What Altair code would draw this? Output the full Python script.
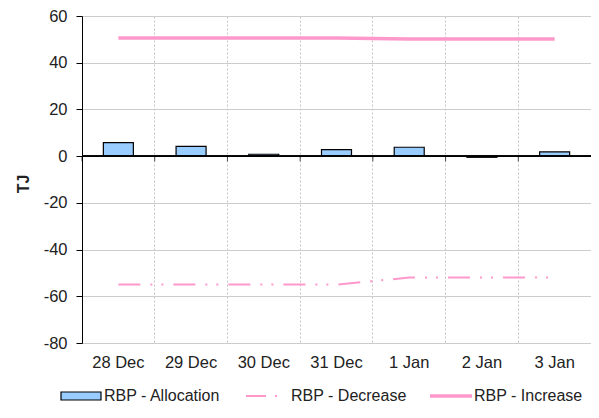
import altair as alt
import pandas as pd

days = ["28 Dec", "29 Dec", "30 Dec", "31 Dec", "1 Jan", "2 Jan", "3 Jan"]
allocation = [5.8, 4.2, 0.8, 2.8, 3.8, -0.5, 1.8]
decrease = [-55.0, -55.0, -55.0, -55.0, -52.0, -52.0, -52.0]
increase = [50.6, 50.6, 50.6, 50.6, 50.1, 50.1, 50.1]
y_ticks = [-80, -60, -40, -20, 0, 20, 40, 60]
legend_labels = ["RBP - Allocation", "RBP - Decrease", "RBP - Increase"]

df = pd.DataFrame({"day": days, "alloc": allocation, "dec": decrease, "inc": increase, "zero": 0})

FONT = "Liberation Sans"
PINK = "#ff99cc"
W, H = 509, 327

xscale = alt.Scale(domain=days, paddingInner=0, paddingOuter=0)
yscale = alt.Scale(domain=[-80, 60], nice=False, zero=False)

base = alt.Chart(df)

bars = base.mark_bar(size=30, fill="#99ccff", stroke="black", strokeWidth=1.2).encode(
    x=alt.X("day:N", sort=days, scale=xscale, title=None,
            axis=alt.Axis(labelAngle=0, domain=False, ticks=False, labelPadding=11,
                          grid=True, bandPosition=0, gridColor="#c4c4c4", gridDash=[2, 2],
                          labelFont=FONT, labelFontSize=16.5, labelColor="#222222")),
    y=alt.Y("alloc:Q", scale=yscale, title="TJ",
            axis=alt.Axis(values=y_ticks, domainColor="black", tickColor="black", tickSize=6,
                          labelPadding=9, gridColor="#cccccc", labelFont=FONT, labelFontSize=16.5,
                          labelColor="#222222", titleFont=FONT, titleFontSize=16, titleFontWeight="bold",
                          titleColor="#222222", titleX=-51, titleY=H / 2 + 4,
                          labelExpr="'' + datum.value")),
)

zero_rule = base.mark_rule(color="black", strokeWidth=1).encode(
    x=alt.value(0), x2=alt.value(W), y=alt.Y("zero:Q", scale=yscale))

zero_ticks = base.mark_tick(orient="vertical", size=5, yOffset=2.5, thickness=1, color="black").encode(
    x=alt.X("day:N", sort=days, scale=xscale, bandPosition=0),
    y=alt.Y("zero:Q", scale=yscale),
)

inc_line = base.mark_line(color=PINK, strokeWidth=3.5).encode(
    x=alt.X("day:N", sort=days, scale=xscale),
    y=alt.Y("inc:Q", scale=yscale),
)
dec_line = base.mark_line(color=PINK, strokeWidth=2, strokeDash=[22, 10, 2, 9, 2, 10]).encode(
    x=alt.X("day:N", sort=days, scale=xscale),
    y=alt.Y("dec:Q", scale=yscale),
)

one = alt.Data(values=[{"a": 1}])
LY = H + 53
leg_box = alt.Chart(one).mark_rect(fill="#99ccff", stroke="black", strokeWidth=1.2).encode(
    x=alt.value(-21), x2=alt.value(19), y=alt.value(LY - 4), y2=alt.value(LY + 4))
leg_dec = alt.Chart(one).mark_rule(color=PINK, strokeWidth=2, strokeDash=[20, 9, 2, 9]).encode(
    x=alt.value(164), x2=alt.value(196), y=alt.value(LY))
leg_inc = alt.Chart(one).mark_rule(color=PINK, strokeWidth=3.5).encode(
    x=alt.value(348), x2=alt.value(390), y=alt.value(LY))
leg_text = alt.Chart(alt.Data(values=[
    {"t": legend_labels[0], "px": 22},
    {"t": legend_labels[1], "px": 209},
    {"t": legend_labels[2], "px": 392},
])).mark_text(align="left", baseline="middle", font=FONT, fontSize=16, color="#222222").encode(
    x=alt.X("px:Q", scale=None), y=alt.value(LY), text="t:N")

chart = alt.layer(bars, zero_rule, zero_ticks, dec_line, inc_line, leg_box, leg_dec, leg_inc, leg_text).properties(
    width=W, height=H,
    autosize=alt.AutoSizeParams(type="none"),
    padding={"left": 74, "top": 8, "right": 0, "bottom": 62},
).configure_view(stroke="#bbbbbb").configure(background="white")

chart.save("out.html", embed_options={"renderer": "svg", "actions": False})
